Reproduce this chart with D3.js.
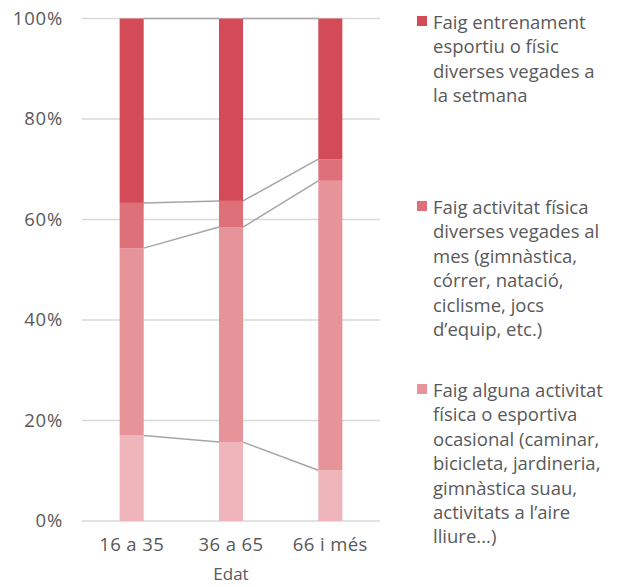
<!DOCTYPE html>
<html>
<head>
<meta charset="utf-8">
<script src="https://cdn.jsdelivr.net/npm/d3@7"></script>
<style>
  html, body { margin: 0; padding: 0; background: #fff; }
  svg { display: block; font-family: "Open Sans", "Liberation Sans", Arial, sans-serif; }
</style>
</head>
<body>
<svg id="chart" width="627" height="587"></svg>
<script>
const categories = ["16 a 35", "36 a 65", "66 i més"];
const seriesKeys = ["ocasional", "alguna", "mes", "setmana"];
const ocasional = [17.0, 15.7, 10.1];
const alguna = [37.3, 42.8, 57.6];
const mes = [9.0, 5.2, 4.3];
const setmana = [36.7, 36.3, 28.0];
const yTicks = [0, 20, 40, 60, 80, 100];
const xTitle = "Edat";
const legendItems = [
  { key: "setmana", lines: ["Faig entrenament", "esportiu o físic", "diverses vegades a", "la setmana"] },
  { key: "mes", lines: ["Faig activitat física", "diverses vegades al", "mes (gimnàstica,", "córrer, natació,", "ciclisme, jocs", "d’equip, etc.)"] },
  { key: "alguna", lines: ["Faig alguna activitat", "física o esportiva", "ocasional (caminar,", "bicicleta, jardineria,", "gimnàstica suau,", "activitats a l’aire", "lliure...)"] }
];
const colors = { setmana: "#D34B56", mes: "#DD7078", alguna: "#E69399", ocasional: "#EEB6BA" };

const rows = categories.map((c, i) => ({
  cat: c, ocasional: ocasional[i], alguna: alguna[i], mes: mes[i], setmana: setmana[i]
}));

const FONT = "Open Sans, Liberation Sans, Arial, sans-serif";
const FS = 18.5;
const svg = d3.select("#chart");
const margin = { left: 82, right: 247, top: 18.5, bottom: 66 };
const W = 627, H = 587;
const x = d3.scaleBand().domain(categories).range([margin.left, W - margin.right]).paddingInner(0.758).paddingOuter(0.379);
const y = d3.scaleLinear().domain([0, 100]).range([H - margin.bottom, margin.top]);

// gridlines
svg.append("g").selectAll("line").data(yTicks).join("line")
  .attr("x1", margin.left).attr("x2", W - margin.right)
  .attr("y1", d => y(d)).attr("y2", d => y(d))
  .attr("stroke", "#D9D9D9").attr("stroke-width", 1.3);

// y axis labels
const yAxis = d3.axisLeft(y).tickValues(yTicks).tickFormat(d => d + "%").tickSize(0).tickPadding(19);
const ya = svg.append("g").attr("transform", `translate(${margin.left},0)`).call(yAxis);
ya.select(".domain").remove();
ya.selectAll("text").attr("fill", "#595959").attr("font-size", FS).attr("font-family", FONT).attr("letter-spacing", 0.8);

const stack = d3.stack().keys(seriesKeys);
const stacked = stack(rows);

// series lines connecting bars
const lineG = svg.append("g");
stacked.forEach(s => {
  for (let i = 0; i < categories.length - 1; i++) {
    lineG.append("line")
      .attr("x1", x(categories[i]) + x.bandwidth())
      .attr("x2", x(categories[i + 1]))
      .attr("y1", y(s[i][1]))
      .attr("y2", y(s[i + 1][1]))
      .attr("stroke", "#A5A5A5").attr("stroke-width", 1.5);
  }
});

// bars
svg.append("g").selectAll("g").data(stacked).join("g")
  .attr("fill", d => colors[d.key])
  .selectAll("rect").data(d => d).join("rect")
  .attr("x", d => x(d.data.cat))
  .attr("width", x.bandwidth())
  .attr("y", d => y(d[1]))
  .attr("height", d => y(d[0]) - y(d[1]));

// x axis labels
const xAxis = d3.axisBottom(x).tickSize(0).tickPadding(17);
const xa = svg.append("g").attr("transform", `translate(0,${y(0)})`).call(xAxis);
xa.select(".domain").remove();
xa.selectAll("text").attr("fill", "#595959").attr("font-size", FS).attr("font-family", FONT).attr("letter-spacing", 0.4);

svg.append("text").attr("x", (margin.left + W - margin.right) / 2).attr("y", 580)
  .attr("text-anchor", "middle").attr("fill", "#595959").attr("font-size", 17).attr("font-family", FONT).text(xTitle);

// legend
const legendTops = [22, 207, 390];
const lineH = 24.4;
legendItems.forEach((item, k) => {
  const g = svg.append("g");
  g.append("rect").attr("x", 417).attr("y", legendTops[k] - 6).attr("width", 10).attr("height", 10)
    .attr("fill", colors[item.key]);
  const t = g.append("text").attr("fill", "#595959").attr("font-size", FS).attr("font-family", FONT);
  item.lines.forEach((ln, j) => {
    t.append("tspan").attr("x", 433).attr("y", legendTops[k] + 7 + j * lineH).text(ln);
  });
});
</script>
</body>
</html>
